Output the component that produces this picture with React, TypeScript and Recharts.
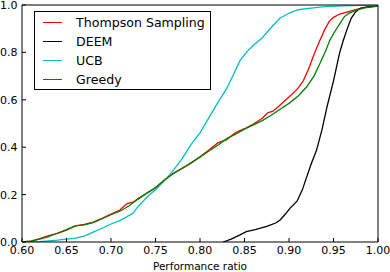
import { LineChart, Line, XAxis, YAxis, Legend } from 'recharts'

const xTicks = [0.6, 0.65, 0.7, 0.75, 0.8, 0.85, 0.9, 0.95, 1.0]
const yTicks = [0, 0.2, 0.4, 0.6, 0.8, 1.0]

const tsX = [0.6, 0.61, 0.62, 0.63, 0.64, 0.65, 0.66, 0.67, 0.68, 0.69, 0.7, 0.71, 0.718, 0.725, 0.73, 0.74, 0.75, 0.76, 0.77, 0.78, 0.79, 0.8, 0.81, 0.82, 0.83, 0.84, 0.85, 0.86, 0.87, 0.876, 0.882, 0.89, 0.9, 0.91, 0.916, 0.922, 0.928, 0.934, 0.94, 0.945, 0.95, 0.957, 0.965, 0.975, 0.985, 1.0]
const tsY = [0, 0.004, 0.014, 0.027, 0.036, 0.05, 0.068, 0.074, 0.084, 0.1, 0.118, 0.135, 0.162, 0.168, 0.182, 0.206, 0.23, 0.262, 0.29, 0.312, 0.332, 0.36, 0.388, 0.418, 0.432, 0.462, 0.478, 0.498, 0.522, 0.545, 0.552, 0.578, 0.612, 0.648, 0.68, 0.73, 0.79, 0.845, 0.895, 0.93, 0.948, 0.962, 0.97, 0.98, 0.99, 0.995]

const deemX = [0.826, 0.835, 0.845, 0.852, 0.862, 0.875, 0.885, 0.89, 0.896, 0.901, 0.909, 0.915, 0.92, 0.925, 0.931, 0.937, 0.943, 0.95, 0.957, 0.961, 0.965, 0.97, 0.975, 0.98, 0.99, 1.0]
const deemY = [0, 0.012, 0.03, 0.044, 0.052, 0.066, 0.08, 0.093, 0.118, 0.142, 0.172, 0.22, 0.276, 0.33, 0.388, 0.473, 0.575, 0.68, 0.8, 0.85, 0.895, 0.945, 0.972, 0.986, 0.993, 0.997]

const ucbX = [0.6, 0.62, 0.64, 0.65, 0.66, 0.67, 0.68, 0.69, 0.7, 0.71, 0.718, 0.725, 0.73, 0.742, 0.75, 0.76, 0.77, 0.78, 0.79, 0.8, 0.808, 0.819, 0.83, 0.838, 0.845, 0.852, 0.86, 0.87, 0.88, 0.89, 0.9, 0.91, 0.925, 0.94, 0.96, 0.98, 1.0]
const ucbY = [0, 0.002, 0.008, 0.012, 0.016, 0.025, 0.042, 0.058, 0.076, 0.09, 0.107, 0.122, 0.148, 0.195, 0.22, 0.258, 0.302, 0.352, 0.412, 0.46, 0.512, 0.582, 0.648, 0.71, 0.765, 0.8, 0.83, 0.862, 0.905, 0.945, 0.965, 0.98, 0.987, 0.993, 0.996, 0.998, 1.0]

const greedyX = [0.6, 0.61, 0.62, 0.63, 0.64, 0.65, 0.66, 0.67, 0.68, 0.69, 0.7, 0.71, 0.72, 0.73, 0.74, 0.75, 0.76, 0.77, 0.78, 0.79, 0.8, 0.81, 0.82, 0.83, 0.84, 0.85, 0.86, 0.87, 0.88, 0.89, 0.9, 0.91, 0.92, 0.928, 0.935, 0.941, 0.946, 0.951, 0.957, 0.962, 0.967, 0.975, 0.985, 1.0]
const greedyY = [0, 0.004, 0.012, 0.023, 0.038, 0.052, 0.068, 0.072, 0.082, 0.098, 0.115, 0.13, 0.152, 0.18, 0.205, 0.228, 0.262, 0.288, 0.31, 0.335, 0.358, 0.384, 0.408, 0.436, 0.455, 0.476, 0.494, 0.512, 0.535, 0.56, 0.585, 0.615, 0.655, 0.7, 0.755, 0.805, 0.852, 0.885, 0.92, 0.95, 0.965, 0.977, 0.988, 0.995]

const toPoints = (xs: number[], ys: number[]) => xs.map((x, i) => ({ x, y: ys[i] }))

const series = [
  { name: 'Thompson Sampling', color: '#ff0000', data: toPoints(tsX, tsY) },
  { name: 'DEEM', color: '#000000', data: toPoints(deemX, deemY) },
  { name: 'UCB', color: '#00bfbf', data: toPoints(ucbX, ucbY) },
  { name: 'Greedy', color: '#008000', data: toPoints(greedyX, greedyY) },
]

const font = "'DejaVu Sans', sans-serif"
const tickStyle = { fill: '#000', fontSize: 11, fontFamily: font }
const axisStroke = { stroke: '#000', strokeWidth: 1 }

function LegendBox() {
  return (
    <div
      style={{
        border: '1px solid #000',
        background: '#fff',
        width: 175,
        paddingTop: 1,
        fontFamily: font,
        fontSize: 12.6,
        color: '#000',
      }}
    >
      {series.map((s) => (
        <div key={s.name} style={{ display: 'flex', alignItems: 'center', height: 19 }}>
          <div style={{ width: 19, height: 0, borderTop: `1.5px solid ${s.color}`, marginLeft: 8, marginRight: 14 }} />
          <span>{s.name}</span>
        </div>
      ))}
    </div>
  )
}

export default function App() {
  return (
    <div style={{ position: 'absolute', left: 0, top: 0, background: '#fff' }}>
      <LineChart width={390} height={272} margin={{ top: 4, right: 11, left: 0, bottom: 0 }}>
        <XAxis
          dataKey="x"
          type="number"
          domain={[0.6, 1.0]}
          ticks={xTicks}
          interval={0}
          allowDataOverflow
          height={30}
          tickSize={-4}
          tickMargin={8}
          tick={tickStyle}
          tickLine={axisStroke}
          axisLine={axisStroke}
          tickFormatter={(v: number) => v.toFixed(2)}
          label={{ value: 'Performance ratio', position: 'insideBottom', offset: 2, fill: '#000', fontSize: 10.5, fontFamily: font }}
        />
        <XAxis
          xAxisId="top"
          orientation="top"
          dataKey="x"
          type="number"
          domain={[0.6, 1.0]}
          ticks={xTicks}
          interval={0}
          height={1}
          tickSize={-4}
          tick={tickStyle}
          tickLine={axisStroke}
          axisLine={axisStroke}
          tickFormatter={() => ''}
        />
        <YAxis
          type="number"
          domain={[0, 1]}
          ticks={yTicks}
          interval={0}
          allowDataOverflow
          width={22}
          tickSize={-4}
          tickMargin={8.5}
          tick={tickStyle}
          tickLine={axisStroke}
          axisLine={axisStroke}
          tickFormatter={(v: number) => v.toFixed(1)}
        />
        <YAxis
          yAxisId="right"
          orientation="right"
          type="number"
          domain={[0, 1]}
          ticks={yTicks}
          interval={0}
          width={1}
          tickSize={-4}
          tick={tickStyle}
          tickLine={axisStroke}
          axisLine={axisStroke}
          tickFormatter={() => ''}
        />
        <Legend
          layout="vertical"
          align="center"
          verticalAlign="middle"
          content={() => <LegendBox />}
          wrapperStyle={{ left: 34, top: 11, width: 'auto' }}
        />
        {series.map((s) => (
          <Line
            key={s.name}
            data={s.data}
            dataKey="y"
            name={s.name}
            type="linear"
            stroke={s.color}
            strokeWidth={1.3}
            dot={false}
            activeDot={false}
            isAnimationActive={false}
          />
        ))}
      </LineChart>
    </div>
  )
}
